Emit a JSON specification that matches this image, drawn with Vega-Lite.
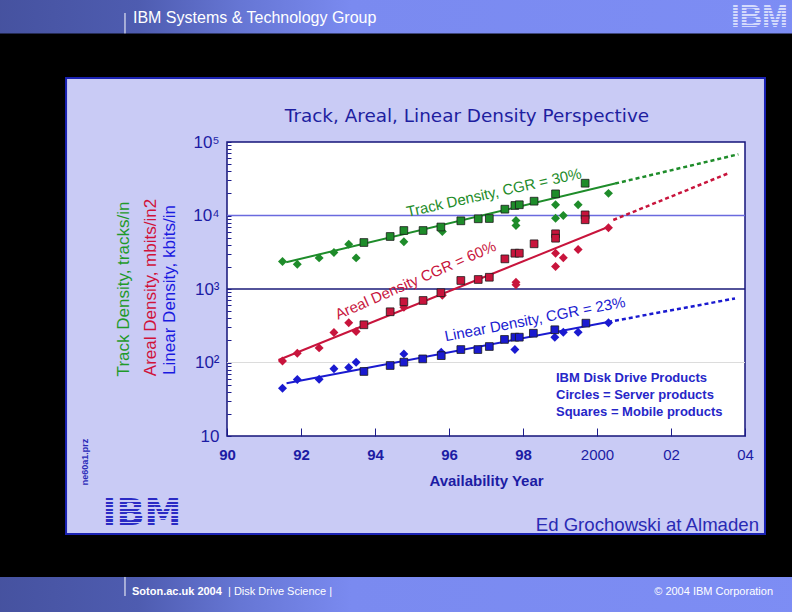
{
"$schema": "https://vega.github.io/schema/vega-lite/v6.json",
"width": 518, "height": 294,
"autosize": {"type": "none"},
"padding": {"left": 227, "top": 142, "right": 47, "bottom": 176},
"background": "#000000",
"config": {"view": {"stroke": null}, "font": "Liberation Sans"},
"datasets": {
"points": [
{"series":"Track","type":"Server","year":1991.5,"density":2370},
{"series":"Track","type":"Server","year":1991.9,"density":2170},
{"series":"Track","type":"Server","year":1992.49,"density":2650},
{"series":"Track","type":"Server","year":1992.89,"density":3140},
{"series":"Track","type":"Server","year":1993.29,"density":4070},
{"series":"Track","type":"Server","year":1993.49,"density":2650},
{"series":"Track","type":"Server","year":1994.78,"density":4390},
{"series":"Track","type":"Server","year":1995.82,"density":6050},
{"series":"Track","type":"Server","year":1997.81,"density":8560},
{"series":"Track","type":"Server","year":1997.81,"density":7310},
{"series":"Track","type":"Server","year":1998.88,"density":14000},
{"series":"Track","type":"Server","year":1998.88,"density":9190},
{"series":"Track","type":"Server","year":1999.09,"density":10000},
{"series":"Track","type":"Server","year":1999.49,"density":14000},
{"series":"Track","type":"Server","year":2000.31,"density":20000},
{"series":"Track","type":"Mobile","year":1993.7,"density":4290},
{"series":"Track","type":"Mobile","year":1994.41,"density":5180},
{"series":"Track","type":"Mobile","year":1994.78,"density":6250},
{"series":"Track","type":"Mobile","year":1995.3,"density":6250},
{"series":"Track","type":"Mobile","year":1995.78,"density":6975},
{"series":"Track","type":"Mobile","year":1996.32,"density":8470},
{"series":"Track","type":"Mobile","year":1996.79,"density":9020},
{"series":"Track","type":"Mobile","year":1997.09,"density":9100},
{"series":"Track","type":"Mobile","year":1997.51,"density":12190},
{"series":"Track","type":"Mobile","year":1997.78,"density":13680},
{"series":"Track","type":"Mobile","year":1997.9,"density":14000},
{"series":"Track","type":"Mobile","year":1998.3,"density":15660},
{"series":"Track","type":"Mobile","year":1998.88,"density":19700},
{"series":"Track","type":"Mobile","year":1999.68,"density":27500},
{"series":"Areal","type":"Server","year":1991.5,"density":105},
{"series":"Areal","type":"Server","year":1991.9,"density":134},
{"series":"Areal","type":"Server","year":1992.49,"density":158},
{"series":"Areal","type":"Server","year":1992.89,"density":256},
{"series":"Areal","type":"Server","year":1993.29,"density":347},
{"series":"Areal","type":"Server","year":1993.49,"density":264},
{"series":"Areal","type":"Server","year":1994.78,"density":565},
{"series":"Areal","type":"Server","year":1995.82,"density":820},
{"series":"Areal","type":"Server","year":1997.81,"density":1240},
{"series":"Areal","type":"Server","year":1997.81,"density":1140},
{"series":"Areal","type":"Server","year":1998.88,"density":3070},
{"series":"Areal","type":"Server","year":1998.88,"density":2020},
{"series":"Areal","type":"Server","year":1999.09,"density":2655},
{"series":"Areal","type":"Server","year":1999.49,"density":3440},
{"series":"Areal","type":"Server","year":2000.31,"density":6810},
{"series":"Areal","type":"Mobile","year":1993.7,"density":326},
{"series":"Areal","type":"Mobile","year":1994.41,"density":490},
{"series":"Areal","type":"Mobile","year":1994.78,"density":670},
{"series":"Areal","type":"Mobile","year":1995.3,"density":698},
{"series":"Areal","type":"Mobile","year":1995.78,"density":890},
{"series":"Areal","type":"Mobile","year":1996.32,"density":1306},
{"series":"Areal","type":"Mobile","year":1996.79,"density":1347},
{"series":"Areal","type":"Mobile","year":1997.09,"density":1445},
{"series":"Areal","type":"Mobile","year":1997.51,"density":2570},
{"series":"Areal","type":"Mobile","year":1997.78,"density":3070},
{"series":"Areal","type":"Mobile","year":1997.9,"density":3070},
{"series":"Areal","type":"Mobile","year":1998.3,"density":4120},
{"series":"Areal","type":"Mobile","year":1998.88,"density":5640},
{"series":"Areal","type":"Mobile","year":1998.88,"density":4910},
{"series":"Areal","type":"Mobile","year":1999.68,"density":10200},
{"series":"Areal","type":"Mobile","year":1999.68,"density":8750},
{"series":"Linear","type":"Server","year":1991.5,"density":44.7},
{"series":"Linear","type":"Server","year":1991.9,"density":58.7},
{"series":"Linear","type":"Server","year":1992.49,"density":59.3},
{"series":"Linear","type":"Server","year":1992.89,"density":82},
{"series":"Linear","type":"Server","year":1993.29,"density":85.5},
{"series":"Linear","type":"Server","year":1993.49,"density":101},
{"series":"Linear","type":"Server","year":1994.78,"density":131},
{"series":"Linear","type":"Server","year":1995.79,"density":138},
{"series":"Linear","type":"Server","year":1997.78,"density":150},
{"series":"Linear","type":"Server","year":1998.86,"density":221},
{"series":"Linear","type":"Server","year":1999.09,"density":258},
{"series":"Linear","type":"Server","year":1999.49,"density":258},
{"series":"Linear","type":"Server","year":2000.31,"density":347},
{"series":"Linear","type":"Mobile","year":1993.7,"density":75.5},
{"series":"Linear","type":"Mobile","year":1994.41,"density":91},
{"series":"Linear","type":"Mobile","year":1994.78,"density":101},
{"series":"Linear","type":"Mobile","year":1995.29,"density":112},
{"series":"Linear","type":"Mobile","year":1995.79,"density":124},
{"series":"Linear","type":"Mobile","year":1996.32,"density":150},
{"series":"Linear","type":"Mobile","year":1996.78,"density":150},
{"series":"Linear","type":"Mobile","year":1997.09,"density":165},
{"series":"Linear","type":"Mobile","year":1997.5,"density":206},
{"series":"Linear","type":"Mobile","year":1997.78,"density":221},
{"series":"Linear","type":"Mobile","year":1997.9,"density":221},
{"series":"Linear","type":"Mobile","year":1998.28,"density":250},
{"series":"Linear","type":"Mobile","year":1998.86,"density":279},
{"series":"Linear","type":"Mobile","year":1999.7,"density":343}
],
"fits": [
{"series":"Track","segment":"fit","year":1991.6,"density":2310},
{"series":"Track","segment":"fit","year":2000.49,"density":27200},
{"series":"Track","segment":"projection","year":2000.49,"density":27200},
{"series":"Track","segment":"projection","year":2003.82,"density":68000},
{"series":"Areal","segment":"fit","year":1991.39,"density":108},
{"series":"Areal","segment":"fit","year":2000.3,"density":6975},
{"series":"Areal","segment":"projection","year":2000.44,"density":8690},
{"series":"Areal","segment":"projection","year":2003.55,"density":37500},
{"series":"Linear","segment":"fit","year":1991.61,"density":52.1},
{"series":"Linear","segment":"fit","year":2000.3,"density":356},
{"series":"Linear","segment":"projection","year":2000.3,"density":356},
{"series":"Linear","segment":"projection","year":2003.73,"density":743}
]
},
"layer": [
{"data": {"values": [{}]},
 "mark": {"type": "rect", "fill": "#c9cbf5", "stroke": "#1a22b4", "strokeWidth": 2},
 "encoding": {
  "x": {"datum": 1985.65, "type": "quantitative", "scale": {"domain": [1990, 2004], "nice": false, "zero": false},
   "axis": {"title": "Availability Year", "values": [1990,1991,1992,1993,1994,1995,1996,1997,1998,1999,2000,2001,2002,2003,2004],
    "labelExpr": "datum.value % 2 == 1 ? '' : (datum.value == 2000 ? '2000' : slice(toString(datum.value), 2))",
    "labelFontWeight": {"condition": {"test": "datum.value < 1999", "value": "bold"}, "value": "normal"},
    "labelFontSize": 15, "labelColor": "#1c1ca4", "labelFont": "Liberation Sans", "labelPadding": 19, "labelFlush": false, "labelOverlap": false,
    "tickSize": -8, "tickColor": "#1c1c8c", "tickWidth": 1, "domain": false, "grid": false,
    "titleFontSize": 15, "titleFontWeight": "bold", "titleColor": "#1c1ca4", "titleFont": "Liberation Sans", "titlePadding": 11, "zindex": 1}},
  "x2": {"datum": 2004.54},
  "y": {"datum": 743000, "type": "quantitative", "scale": {"type": "log", "domain": [10, 100000], "nice": false},
   "axis": {"title": null, "values": [10,20,30,40,50,60,70,80,90,100,200,300,400,500,600,700,800,900,1000,2000,3000,4000,5000,6000,7000,8000,9000,10000,20000,30000,40000,50000,60000,70000,80000,90000,100000],
    "labelExpr": "datum.value == 100000 ? '10⁵' : datum.value == 10000 ? '10⁴' : datum.value == 1000 ? '10³' : datum.value == 100 ? '10²' : datum.value == 10 ? '10' : ''",
    "labelFontSize": 17, "labelColor": "#1c1ca4", "labelFont": "Liberation Sans", "labelFontWeight": "normal", "labelPadding": 12, "labelOverlap": false, "labelBaseline": "middle",
    "tickSize": -4, "tickColor": "#1c1c8c", "tickWidth": 1, "domain": false, "grid": false, "zindex": 1}},
  "y2": {"datum": 0.464}
 }},
{"data": {"values": [{}]},
 "mark": {"type": "rect", "color": {"x1": 0, "y1": 0, "x2": 1, "y2": 0, "gradient": "linear", "stops": [{"offset": 0, "color": "#44509c"}, {"offset": 0.2, "color": "#4e5cb0"}, {"offset": 0.32, "color": "#6676d4"}, {"offset": 0.45, "color": "#7a8af0"}, {"offset": 1, "color": "#7d8df4"}]}},
 "encoding": {"x": {"datum": 1983, "type": "quantitative"}, "x2": {"datum": 2006}, "y": {"datum": 10000000, "type": "quantitative"}, "y2": {"datum": 3000000}}},
{"data": {"values": [{}]},
 "mark": {"type": "rect", "color": {"x1": 0, "y1": 0, "x2": 1, "y2": 0, "gradient": "linear", "stops": [{"offset": 0, "color": "#44509c"}, {"offset": 0.2, "color": "#4e5cb0"}, {"offset": 0.32, "color": "#6676d4"}, {"offset": 0.45, "color": "#7a8af0"}, {"offset": 1, "color": "#7d8df4"}]}},
 "encoding": {"x": {"datum": 1983, "type": "quantitative"}, "x2": {"datum": 2006}, "y": {"datum": 0.1208, "type": "quantitative"}, "y2": {"datum": 0.01}}},
{"data": {"values": [{}]},
 "mark": {"type": "rule", "color": "#ffffff", "strokeWidth": 1},
 "encoding": {"x": {"datum": 1987.243, "type": "quantitative"}, "y": {"datum": 5690000, "type": "quantitative"}, "y2": {"datum": 3000000}}},
{"data": {"values": [{}]},
 "mark": {"type": "rule", "color": "#ffffff", "strokeWidth": 1},
 "encoding": {"x": {"datum": 1987.243, "type": "quantitative"}, "y": {"datum": 0.1208, "type": "quantitative"}, "y2": {"datum": 0.0665}}},
{"data": {"values": [{}]},
 "mark": {"type": "rect", "fill": "#ffffff", "stroke": "#14147a", "strokeWidth": 1.5},
 "encoding": {"x": {"datum": 1990, "type": "quantitative"}, "x2": {"datum": 2004}, "y": {"datum": 10, "type": "quantitative"}, "y2": {"datum": 100000}}},
{"data": {"values": [{}]},
 "mark": {"type": "rule", "color": "#6a6ade", "strokeWidth": 1.5},
 "encoding": {"y": {"datum": 10000, "type": "quantitative"}}},
{"data": {"values": [{}]},
 "mark": {"type": "rule", "color": "#1a1a78", "strokeWidth": 1.5},
 "encoding": {"y": {"datum": 1000, "type": "quantitative"}}},
{"data": {"values": [{}]},
 "mark": {"type": "rule", "color": "#dcdcdc", "strokeWidth": 1},
 "encoding": {"y": {"datum": 100, "type": "quantitative"}}},
{"data": {"name": "fits"},
 "transform": [{"filter": "datum.segment == 'fit'"}],
 "mark": {"type": "line", "strokeWidth": 2},
 "encoding": {"x": {"field": "year", "type": "quantitative"}, "y": {"field": "density", "type": "quantitative"},
  "color": {"field": "series", "type": "nominal", "scale": {"domain": ["Track", "Areal", "Linear"], "range": ["#1e8c2a", "#c8143c", "#1a1ad0"]}, "legend": null},
  "detail": {"field": "series"}}},
{"data": {"name": "fits"},
 "transform": [{"filter": "datum.segment == 'projection'"}],
 "mark": {"type": "line", "strokeWidth": 2.5, "strokeDash": [4, 3]},
 "encoding": {"x": {"field": "year", "type": "quantitative"}, "y": {"field": "density", "type": "quantitative"},
  "color": {"field": "series", "type": "nominal", "scale": {"domain": ["Track", "Areal", "Linear"], "range": ["#1e8c2a", "#c8143c", "#1a1ad0"]}, "legend": null},
  "detail": {"field": "series"}}},
{"data": {"name": "points"},
 "transform": [{"filter": "datum.type == 'Server'"}],
 "mark": {"type": "point", "shape": "diamond", "filled": true, "size": 80, "opacity": 1},
 "encoding": {"x": {"field": "year", "type": "quantitative"}, "y": {"field": "density", "type": "quantitative"},
  "color": {"field": "series", "type": "nominal", "scale": {"domain": ["Track", "Areal", "Linear"], "range": ["#1e8c2a", "#c8143c", "#1a1ad0"]}, "legend": null}}},
{"data": {"name": "points"},
 "transform": [{"filter": "datum.type == 'Mobile'"}],
 "mark": {"type": "square", "size": 60, "opacity": 1, "stroke": "#1a1a1a", "strokeWidth": 0.8},
 "encoding": {"x": {"field": "year", "type": "quantitative"}, "y": {"field": "density", "type": "quantitative"},
  "color": {"field": "series", "type": "nominal", "scale": {"domain": ["Track", "Areal", "Linear"], "range": ["#1e8c2a", "#c8143c", "#1a1ad0"]}, "legend": null}}},
{"data": {"values": [{}]},
 "mark": {"type": "text", "text": "Track, Areal, Linear Density Perspective", "color": "#1e1ea0", "font": "DejaVu Sans", "fontSize": 18.4, "align": "center", "baseline": "middle"},
 "encoding": {"x": {"datum": 1996.486, "type": "quantitative"}, "y": {"datum": 225800, "type": "quantitative"}}},
{"data": {"values": [{}]},
 "mark": {"type": "text", "text": "IBM Systems & Technology Group", "color": "#ffffff", "fontSize": 16, "align": "left", "baseline": "middle"},
 "encoding": {"x": {"datum": 1987.459, "type": "quantitative"}, "y": {"datum": 4860000, "type": "quantitative"}}},
{"data": {"values": [{}]},
 "mark": {"type": "text", "text": "IBM", "color": "#d4dafc", "font": "Liberation Sans", "fontWeight": "bold", "fontSize": 31, "align": "center", "baseline": "middle"},
 "encoding": {"x": {"datum": 2004.392, "type": "quantitative"}, "y": {"datum": 4790000, "type": "quantitative"}}},
{"data": {"values": [{}]},
 "mark": {"type": "rect", "color": {"x1": 0, "y1": 0, "x2": 0, "y2": 1, "gradient": "linear", "stops": [{"offset": 0, "color": "rgba(125,141,244,0)"}, {"offset": 0.082, "color": "rgba(125,141,244,0)"}, {"offset": 0.082, "color": "#7d8df4"}, {"offset": 0.132, "color": "#7d8df4"}, {"offset": 0.132, "color": "rgba(125,141,244,0)"}, {"offset": 0.214, "color": "rgba(125,141,244,0)"}, {"offset": 0.214, "color": "#7d8df4"}, {"offset": 0.264, "color": "#7d8df4"}, {"offset": 0.264, "color": "rgba(125,141,244,0)"}, {"offset": 0.346, "color": "rgba(125,141,244,0)"}, {"offset": 0.346, "color": "#7d8df4"}, {"offset": 0.396, "color": "#7d8df4"}, {"offset": 0.396, "color": "rgba(125,141,244,0)"}, {"offset": 0.478, "color": "rgba(125,141,244,0)"}, {"offset": 0.478, "color": "#7d8df4"}, {"offset": 0.528, "color": "#7d8df4"}, {"offset": 0.528, "color": "rgba(125,141,244,0)"}, {"offset": 0.61, "color": "rgba(125,141,244,0)"}, {"offset": 0.61, "color": "#7d8df4"}, {"offset": 0.66, "color": "#7d8df4"}, {"offset": 0.66, "color": "rgba(125,141,244,0)"}, {"offset": 0.742, "color": "rgba(125,141,244,0)"}, {"offset": 0.742, "color": "#7d8df4"}, {"offset": 0.792, "color": "#7d8df4"}, {"offset": 0.792, "color": "rgba(125,141,244,0)"}, {"offset": 0.874, "color": "rgba(125,141,244,0)"}, {"offset": 0.874, "color": "#7d8df4"}, {"offset": 0.924, "color": "#7d8df4"}, {"offset": 0.924, "color": "rgba(125,141,244,0)"}, {"offset": 1, "color": "rgba(125,141,244,0)"}]}},
 "encoding": {"x": {"datum": 2003.54, "type": "quantitative"}, "x2": {"datum": 2005.24}, "y": {"datum": 7310000, "type": "quantitative"}, "y2": {"datum": 3557000}}},
{"data": {"values": [{}]},
 "mark": {"type": "text", "text": "Soton.ac.uk 2004", "color": "#ffffff", "fontSize": 11, "fontWeight": "bold", "align": "left", "baseline": "middle"},
 "encoding": {"x": {"datum": 1987.432, "type": "quantitative"}, "y": {"datum": 0.0762, "type": "quantitative"}}},
{"data": {"values": [{}]},
 "mark": {"type": "text", "text": "|  Disk Drive Science  |", "color": "#ffffff", "fontSize": 11, "align": "left", "baseline": "middle"},
 "encoding": {"x": {"datum": 1990.027, "type": "quantitative"}, "y": {"datum": 0.0762, "type": "quantitative"}}},
{"data": {"values": [{}]},
 "mark": {"type": "text", "text": "© 2004 IBM Corporation", "color": "#ffffff", "fontSize": 11, "align": "right", "baseline": "middle"},
 "encoding": {"x": {"datum": 2004.757, "type": "quantitative"}, "y": {"datum": 0.0762, "type": "quantitative"}}},
{"data": {"values": [{}]},
 "mark": {"type": "text", "text": "Track Density, tracks/in", "color": "#1f9a2a", "fontSize": 17, "angle": 270, "align": "center", "baseline": "middle"},
 "encoding": {"x": {"datum": 1987.203, "type": "quantitative"}, "y": {"datum": 1000, "type": "quantitative"}}},
{"data": {"values": [{}]},
 "mark": {"type": "text", "text": "Areal Density, mbits/in2", "color": "#d0123a", "fontSize": 17, "angle": 270, "align": "center", "baseline": "middle"},
 "encoding": {"x": {"datum": 1987.959, "type": "quantitative"}, "y": {"datum": 1048, "type": "quantitative"}}},
{"data": {"values": [{}]},
 "mark": {"type": "text", "text": "Linear  Density, kbits/in", "color": "#1a1ae0", "fontSize": 17, "angle": 270, "align": "center", "baseline": "middle"},
 "encoding": {"x": {"datum": 1988.446, "type": "quantitative"}, "y": {"datum": 969, "type": "quantitative"}}},
{"data": {"values": [{}]},
 "mark": {"type": "text", "text": "Track Density, CGR = 30%", "color": "#1e8c2a", "fontSize": 15, "angle": 347.4, "align": "center", "baseline": "alphabetic"},
 "encoding": {"x": {"datum": 1997.243, "type": "quantitative"}, "y": {"datum": 17570, "type": "quantitative"}}},
{"data": {"values": [{}]},
 "mark": {"type": "text", "text": "Areal Density CGR = 60%", "color": "#c8143c", "fontSize": 15, "angle": 336.3, "align": "center", "baseline": "alphabetic"},
 "encoding": {"x": {"datum": 1995.149, "type": "quantitative"}, "y": {"datum": 1139, "type": "quantitative"}}},
{"data": {"values": [{}]},
 "mark": {"type": "text", "text": "Linear Density, CGR = 23%", "color": "#1a1ad0", "fontSize": 15, "angle": 349.1, "align": "center", "baseline": "alphabetic"},
 "encoding": {"x": {"datum": 1998.351, "type": "quantitative"}, "y": {"datum": 334, "type": "quantitative"}}},
{"data": {"values": [{}]},
 "mark": {"type": "text", "text": ["IBM Disk Drive Products", "Circles = Server products", "Squares = Mobile products"], "lineHeight": 16.7, "color": "#2626c8", "fontSize": 13, "fontWeight": "bold", "align": "left", "baseline": "middle"},
 "encoding": {"x": {"datum": 1998.892, "type": "quantitative"}, "y": {"datum": 60.9, "type": "quantitative"}}},
{"data": {"values": [{}]},
 "mark": {"type": "text", "text": "Ed Grochowski at Almaden", "color": "#2a2ab4", "fontSize": 18.6, "align": "right", "baseline": "middle"},
 "encoding": {"x": {"datum": 2004.378, "type": "quantitative"}, "y": {"datum": 0.615, "type": "quantitative"}}},
{"data": {"values": [{}]},
 "mark": {"type": "text", "text": "ne60a1.prz", "color": "#2a2ab8", "fontSize": 9, "fontWeight": "bold", "angle": 270, "align": "center", "baseline": "middle"},
 "encoding": {"x": {"datum": 1986.162, "type": "quantitative"}, "y": {"datum": 4.43, "type": "quantitative"}}},
{"data": {"values": [{}]},
 "mark": {"type": "text", "text": "IBM", "color": "#2a2ac4", "font": "DejaVu Sans", "fontWeight": "bold", "fontSize": 37, "align": "center", "baseline": "middle"},
 "encoding": {"x": {"datum": 1987.703, "type": "quantitative"}, "y": {"datum": 0.882, "type": "quantitative"}}},
{"data": {"values": [{}]},
 "mark": {"type": "rect", "color": {"x1": 0, "y1": 0, "x2": 0, "y2": 1, "gradient": "linear", "stops": [{"offset": 0, "color": "rgba(201,203,245,0)"}, {"offset": 0.082, "color": "rgba(201,203,245,0)"}, {"offset": 0.082, "color": "#c9cbf5"}, {"offset": 0.132, "color": "#c9cbf5"}, {"offset": 0.132, "color": "rgba(201,203,245,0)"}, {"offset": 0.214, "color": "rgba(201,203,245,0)"}, {"offset": 0.214, "color": "#c9cbf5"}, {"offset": 0.264, "color": "#c9cbf5"}, {"offset": 0.264, "color": "rgba(201,203,245,0)"}, {"offset": 0.346, "color": "rgba(201,203,245,0)"}, {"offset": 0.346, "color": "#c9cbf5"}, {"offset": 0.396, "color": "#c9cbf5"}, {"offset": 0.396, "color": "rgba(201,203,245,0)"}, {"offset": 0.478, "color": "rgba(201,203,245,0)"}, {"offset": 0.478, "color": "#c9cbf5"}, {"offset": 0.528, "color": "#c9cbf5"}, {"offset": 0.528, "color": "rgba(201,203,245,0)"}, {"offset": 0.61, "color": "rgba(201,203,245,0)"}, {"offset": 0.61, "color": "#c9cbf5"}, {"offset": 0.66, "color": "#c9cbf5"}, {"offset": 0.66, "color": "rgba(201,203,245,0)"}, {"offset": 0.742, "color": "rgba(201,203,245,0)"}, {"offset": 0.742, "color": "#c9cbf5"}, {"offset": 0.792, "color": "#c9cbf5"}, {"offset": 0.792, "color": "rgba(201,203,245,0)"}, {"offset": 0.874, "color": "rgba(201,203,245,0)"}, {"offset": 0.874, "color": "#c9cbf5"}, {"offset": 0.924, "color": "#c9cbf5"}, {"offset": 0.924, "color": "rgba(201,203,245,0)"}, {"offset": 1, "color": "rgba(201,203,245,0)"}]}},
 "encoding": {"x": {"datum": 1986.568, "type": "quantitative"}, "x2": {"datum": 1988.838}, "y": {"datum": 1.434, "type": "quantitative"}, "y2": {"datum": 0.6153}}}
]
}
